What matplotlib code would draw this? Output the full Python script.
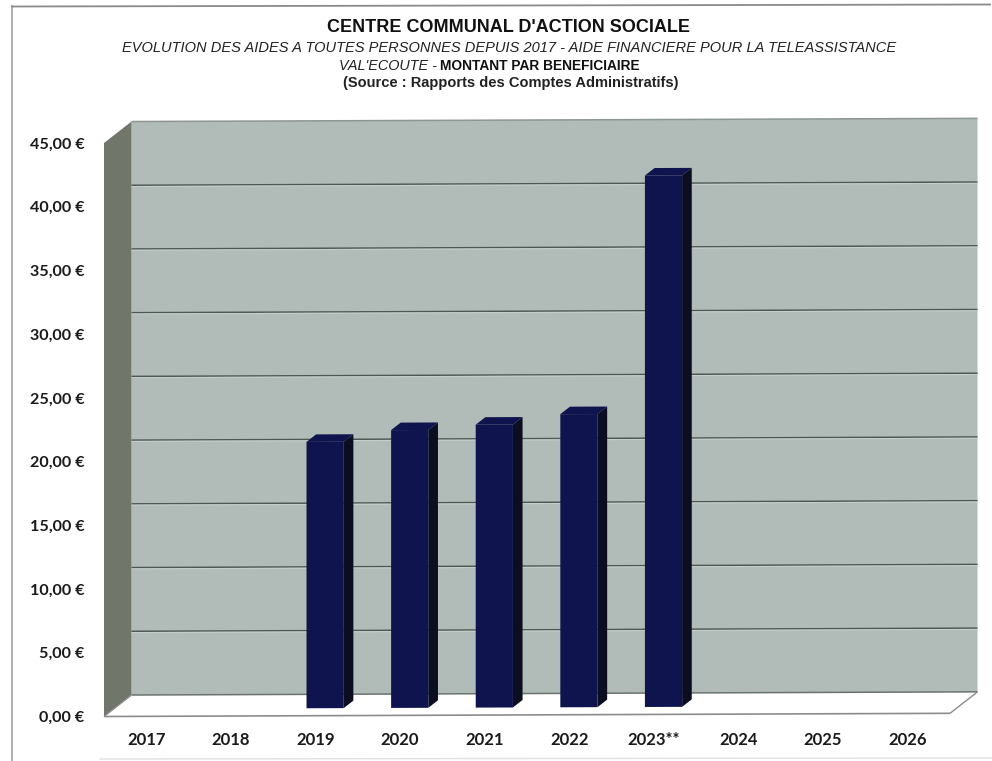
import matplotlib
matplotlib.use('Agg')
import matplotlib.pyplot as plt
from matplotlib.lines import Line2D

years = ['2017', '2018', '2019', '2020', '2021', '2022', '2023**', '2024', '2025', '2026']
amounts = [0, 0, 20.9, 21.8, 22.2, 23.0, 41.7, 0, 0, 0]
y_ticks = [0, 5, 10, 15, 20, 25, 30, 35, 40, 45]
y_labels = ['0,00 €', '5,00 €', '10,00 €', '15,00 €', '20,00 €', '25,00 €', '30,00 €', '35,00 €', '40,00 €', '45,00 €']

W, H = 992, 761
DX = 27.5 / 84.6   # depth of the 3d box, in categories
DY = 21.5 / 12.76  # and in euros
TILT = 0.025       # the scan is a bit rotated
BAR_W = 0.44
BAR_D1 = 0.35
BAR_D2 = 0.70

WALL = '#b1bbb7'
SIDE = '#71766a'
GRID = '#4d5853'
GRID_LIGHT = '#c6cecb'
BAR = '#10144e'
BAR_SIDE = '#0a0e20'
EDGE = '#8c8c8c'


def pt(x, y, d=0.0):
    return x + d * DX, y + d * DY + x * TILT


def face(ax, corners, color, z):
    xy = [pt(*c) for c in corners]
    ax.fill([p[0] for p in xy], [p[1] for p in xy], color=color, lw=0, zorder=z, clip_on=False)


def edge(ax, a, b, color, lw, z):
    p, q = pt(*a), pt(*b)
    ax.plot([p[0], q[0]], [p[1], q[1]], color=color, lw=lw, zorder=z, clip_on=False, solid_capstyle='butt')


fig = plt.figure(figsize=(W / 100, H / 100), dpi=100)
ax = fig.add_axes([104 / W, 1 - 716.5 / H, 846 / W, 573.5 / H])
ax.set_xlim(0, len(years))
ax.set_ylim(0, 45)
ax.patch.set_visible(False)
for s in ax.spines.values():
    s.set_visible(False)

n = len(years)
top = y_ticks[-1]
face(ax, [(0, 0, 1), (n, 0, 1), (n, top, 1), (0, top, 1)], WALL, 1)
face(ax, [(0, 0, 0), (0, 0, 1), (0, top, 1), (0, top, 0)], SIDE, 1)
face(ax, [(0, 0, 0), (n, 0, 0), (n, 0, 1), (0, 0, 1)], 'white', 1)

for v in y_ticks[1:-1]:
    edge(ax, (0, v, 1), (n, v, 1), GRID, 1.1, 2)
    edge(ax, (0, v - 0.1, 1), (n, v - 0.1, 1), GRID_LIGHT, 0.8, 2)
edge(ax, (0, top, 1), (n, top, 1), '#8e9692', 1.1, 2)
edge(ax, (0, 0, 1), (n, 0, 1), '#6b736f', 1.1, 2)
edge(ax, (0, 0, 0), (n, 0, 0), EDGE, 1.2, 2)
edge(ax, (n, 0, 0), (n, 0, 1), EDGE, 1.0, 2)
edge(ax, (0, 0, 0), (0, 0, 1), EDGE, 1.0, 2)

for i, v in enumerate(amounts):
    if v == 0:
        continue
    x0 = i + 0.5 - BAR_W / 2
    x1 = i + 0.5 + BAR_W / 2
    face(ax, [(x1, 0, BAR_D1), (x1, 0, BAR_D2), (x1, v, BAR_D2), (x1, v, BAR_D1)], BAR_SIDE, 3)
    face(ax, [(x0, v, BAR_D1), (x1, v, BAR_D1), (x1, v, BAR_D2), (x0, v, BAR_D2)], BAR, 3)
    face(ax, [(x0, 0, BAR_D1), (x1, 0, BAR_D1), (x1, v, BAR_D1), (x0, v, BAR_D1)], BAR, 4)

ax.set_xticks([i + 0.5 for i in range(n)])
ax.set_xticklabels(years, family='Lato', fontweight='bold', fontsize=12, color='#1a1a1a')
ax.set_yticks(y_ticks)
ax.set_yticklabels(y_labels, family='Lato', fontweight='bold', fontsize=11.6, color='#1a1a1a')
ax.tick_params(axis='x', length=0, pad=11.5)
ax.tick_params(axis='y', length=0, pad=14)

sans = 'Liberation Sans'
fig.text(508.5 / W, 1 - 27.5 / H, "CENTRE COMMUNAL D'ACTION SOCIALE", ha='center', va='center',
         family=sans, fontweight='bold', fontsize=13, color='#111111')
fig.text(509 / W, 1 - 47.5 / H, 'EVOLUTION DES AIDES A TOUTES PERSONNES DEPUIS 2017 - AIDE FINANCIERE POUR LA TELEASSISTANCE',
         ha='center', va='center', family=sans, style='italic', fontsize=10.5, color='#222222')
fig.text(437 / W, 1 - 66 / H, "VAL'ECOUTE -", ha='right', va='center', family=sans, style='italic',
         fontsize=10.4, color='#222222')
fig.text(440 / W, 1 - 66 / H, 'MONTANT PAR BENEFICIAIRE', ha='left', va='center', family=sans,
         fontweight='bold', fontsize=9.9, color='#111111')
fig.text(511 / W, 1 - 83.5 / H, '(Source : Rapports des Comptes Administratifs)', ha='center', va='center',
         family=sans, fontweight='bold', fontsize=10.5, color='#222222')

# scanned frame round the chart
fig.add_artist(Line2D([12 / W, 12 / W], [1 - 6 / H, 1 - 761 / H], color='#a8a8a8', lw=1.3))
fig.add_artist(Line2D([12 / W, 990 / W], [1 - 6.5 / H, 1 - 4.5 / H], color='#8a8a8a', lw=1.3))
fig.add_artist(Line2D([100 / W, 992 / W], [1 - 759 / H, 1 - 758 / H], color='#e2e2e2', lw=1.0))

fig.savefig('out.png', dpi=100)
